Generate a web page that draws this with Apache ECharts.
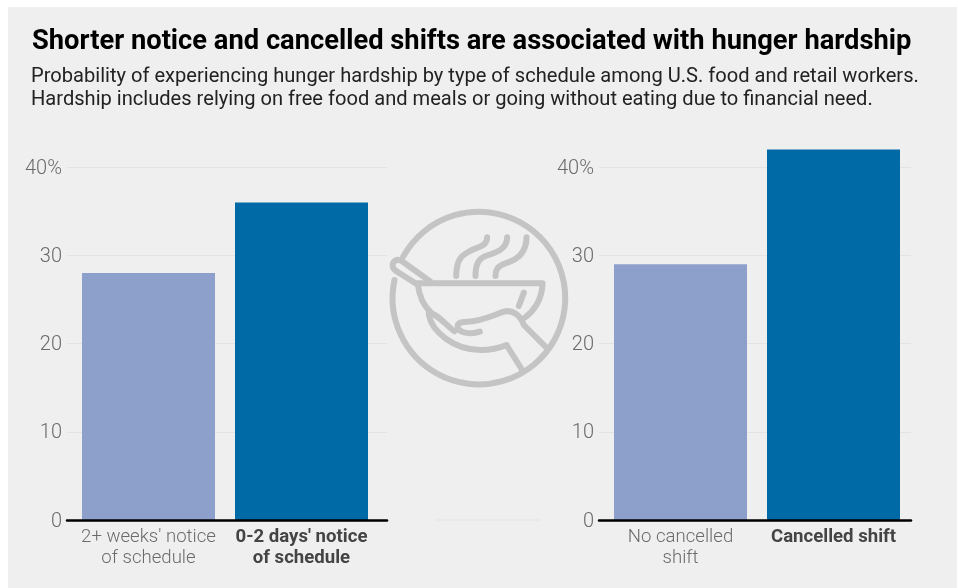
<!DOCTYPE html>
<html><head><meta charset="utf-8">
<style>html,body{margin:0;padding:0;background:#fff}#c{width:958px;height:588px}</style>
<script src="https://cdn.jsdelivr.net/npm/echarts@6/dist/echarts.min.js"></script></head>
<body><div id="c"></div>
<script>
const leftCategories = ["2+ weeks' notice\nof schedule", "0-2 days' notice\nof schedule"];
const leftValues = [28, 36];
const rightCategories = ["No cancelled\nshift", "Cancelled shift"];
const rightValues = [29, 42];
const yTicks = [0, 10, 20, 30, 40];
const titleText = "Shorter notice and cancelled shifts are associated with hunger hardship";
const subtitleText = "Probability of experiencing hunger hardship by type of schedule among U.S. food and retail workers.\nHardship includes relying on free food and meals or going without eating due to financial need.";
const colors = ["#8d9fcb", "#006aa7"];
const FONT = "Roboto";
const TOP = 123, BOTTOM = 68;
const chart = echarts.init(document.getElementById('c'), null, {renderer:'canvas'});
function frameGrid(l, r){return {left:l,width:r-l,top:TOP,bottom:BOTTOM};}
const yBase = {type:'value',min:0,max:45,interval:10};
const catLabel = {interval:0,fontFamily:FONT,fontSize:18.6,lineHeight:21,margin:7,
  formatter:(v,i)=> i===1 ? '{b|'+v.split('\n').join('}\n{b|')+'}' : v,
  color:'#6b6b6b',fontWeight:300,
  rich:{b:{fontFamily:FONT,fontSize:18.6,lineHeight:21,fontWeight:700,color:'#444'}}};
const iconPaths = [
 'M 68 170 A 259 259 0 1 1 42 240',
 'M 150 245 L 68 186 C 50 172 30 185 38 203 C 40 210 48 214 55 218 L 112 254',
 'M 112 250 L 486 250 C 486 300 457 335 434 352',
 'M 112 252 C 116 290 130 318 152 338',
 'M 430 278 L 415 318',
 'M 320 112 C 320 140 290 140 265 155 C 235 170 228 190 227 228',
 'M 380 112 C 380 150 340 160 315 168 C 290 178 285 200 285 228',
 'M 438 112 C 438 160 410 180 375 190 C 350 198 345 210 345 228',
 'M 145 338 C 170 340 195 375 222 394',
 'M 145 345 C 155 395 220 450 300 450 C 330 450 355 445 378 435 L 425 510',
 'M 298 395 C 270 405 240 398 232 385 C 228 370 240 365 260 365 C 300 365 340 345 370 335 C 395 328 420 345 430 375 L 500 445'
];
iconPaths.forEach((d,i)=>echarts.graphic.registerShape('iconPath'+i, echarts.graphic.extendPath(d,{})));
chart.setOption({
 backgroundColor:'#fff',
 animation:false,
 title:[
  {text:titleText,left:27,top:24,textStyle:{fontFamily:FONT,fontSize:27.3,fontWeight:700,color:'#000'}},
  {text:subtitleText,left:26,top:60,textStyle:{fontFamily:FONT,fontSize:20.1,fontWeight:400,color:'#222',lineHeight:23}}
 ],
 grid:[frameGrid(67,387),frameGrid(72,378),frameGrid(599,911),frameGrid(604,910)],
 xAxis:[
  {gridIndex:0,type:'category',data:[''],axisTick:{show:false},axisLabel:{show:false},axisLine:{lineStyle:{color:'#000',width:2.5}},z:5},
  {gridIndex:1,type:'category',data:leftCategories,axisTick:{show:false},axisLine:{show:false},axisLabel:catLabel},
  {gridIndex:2,type:'category',data:[''],axisTick:{show:false},axisLabel:{show:false},axisLine:{lineStyle:{color:'#000',width:2.5}},z:5},
  {gridIndex:3,type:'category',data:rightCategories,axisTick:{show:false},axisLine:{show:false},axisLabel:catLabel}
 ],
 yAxis:[0,1,2,3].map(i=>({...yBase,gridIndex:i,
  axisLine:{show:false},axisTick:{show:false},
  splitLine:{show:i%2===0,showMaxLine:false,lineStyle:{color:'#e3e3e3',width:1}},
  axisLabel:{show:i%2===0,fontFamily:FONT,fontSize:20,fontWeight:300,color:'#6b6b6b',margin:5,verticalAlign:'top',lineHeight:3,
    customValues:yTicks,formatter:v=>v===40?v+'%':''+v}})),
 series:[
  {type:'bar',xAxisIndex:1,yAxisIndex:1,barWidth:133,z:2,data:leftValues.map((v,i)=>({value:v,itemStyle:{color:colors[i]}}))},
  {type:'bar',xAxisIndex:3,yAxisIndex:3,barWidth:133,z:2,data:rightValues.map((v,i)=>({value:v,itemStyle:{color:colors[i]}}))}
 ],
 graphic:[
  {type:'rect',z:-10,shape:{x:8,y:7,width:949,height:581},style:{fill:'#efefef'}},
  {type:'line',shape:{x1:436,y1:520,x2:540,y2:520},style:{stroke:'#dfe3e8',lineWidth:1}},
  {type:'group',x:380.5,y:200,scaleX:1/3,scaleY:1/3,silent:true,z:10,
   children:iconPaths.map((d,i)=>({type:'iconPath'+i,
     style:{fill:'none',stroke:'#c4c4c4',lineWidth:18,lineCap:'round',lineJoin:'round'}}))}
 ]
});
</script></body></html>
